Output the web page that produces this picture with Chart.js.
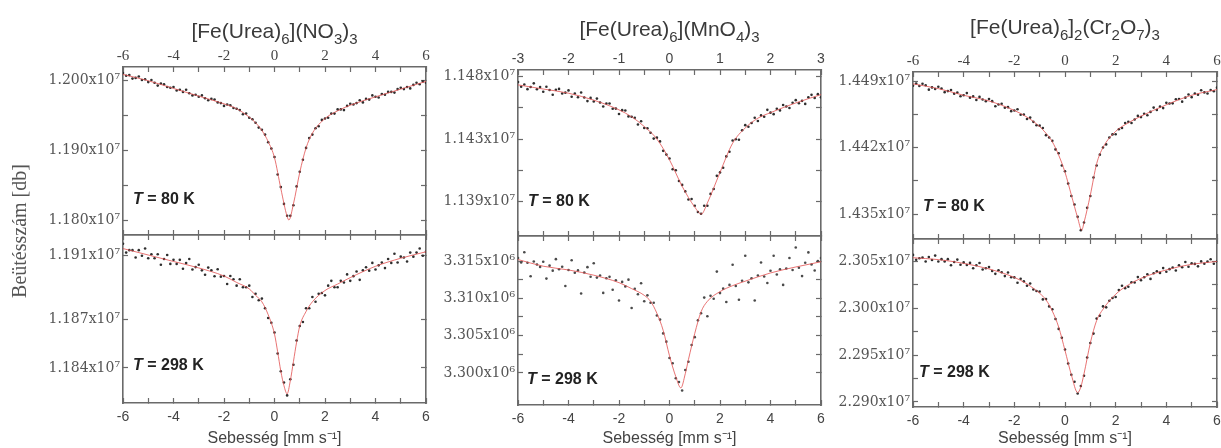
<!DOCTYPE html>
<html>
<head>
<meta charset="utf-8">
<script src="https://cdn.jsdelivr.net/npm/chart.js@4.4.1/dist/chart.umd.min.js"></script>
<style>
  html, body { margin: 0; padding: 0; background: #fff; }
  #wrap { position: relative; width: 1221px; height: 448px; overflow: hidden; }
  #wrap canvas { position: absolute; left: 0; top: 0; }
</style>
</head>
<body>
<div id="wrap">
  <canvas id="c1" width="1221" height="448"></canvas>
  <canvas id="c2" width="1221" height="448"></canvas>
  <canvas id="c3" width="1221" height="448"></canvas>
  <canvas id="c4" width="1221" height="448"></canvas>
  <canvas id="c5" width="1221" height="448"></canvas>
  <canvas id="c6" width="1221" height="448"></canvas>
</div>
<script>
// velocity channels [mm/s]
const velocity = [-6, -5.875, -5.75, -5.625, -5.5, -5.375, -5.25, -5.125, -5, -4.875, -4.75, -4.625, -4.5, -4.375, -4.25, -4.125, -4, -3.875, -3.75, -3.625, -3.5, -3.375, -3.25, -3.125, -3, -2.875, -2.75, -2.625, -2.5, -2.375, -2.25, -2.125, -2, -1.875, -1.75, -1.625, -1.5, -1.375, -1.25, -1.125, -1, -0.875, -0.75, -0.625, -0.5, -0.375, -0.25, -0.125, 0, 0.125, 0.25, 0.375, 0.5, 0.625, 0.75, 0.875, 1, 1.125, 1.25, 1.375, 1.5, 1.625, 1.75, 1.875, 2, 2.125, 2.25, 2.375, 2.5, 2.625, 2.75, 2.875, 3, 3.125, 3.25, 3.375, 3.5, 3.625, 3.75, 3.875, 4, 4.125, 4.25, 4.375, 4.5, 4.625, 4.75, 4.875, 5, 5.125, 5.25, 5.375, 5.5, 5.625, 5.75, 5.875, 6];
const velocityNarrow = [-3, -2.9375, -2.875, -2.8125, -2.75, -2.6875, -2.625, -2.5625, -2.5, -2.4375, -2.375, -2.3125, -2.25, -2.1875, -2.125, -2.0625, -2, -1.9375, -1.875, -1.8125, -1.75, -1.6875, -1.625, -1.5625, -1.5, -1.4375, -1.375, -1.3125, -1.25, -1.1875, -1.125, -1.0625, -1, -0.9375, -0.875, -0.8125, -0.75, -0.6875, -0.625, -0.5625, -0.5, -0.4375, -0.375, -0.3125, -0.25, -0.1875, -0.125, -0.0625, 0, 0.0625, 0.125, 0.1875, 0.25, 0.3125, 0.375, 0.4375, 0.5, 0.5625, 0.625, 0.6875, 0.75, 0.8125, 0.875, 0.9375, 1, 1.0625, 1.125, 1.1875, 1.25, 1.3125, 1.375, 1.4375, 1.5, 1.5625, 1.625, 1.6875, 1.75, 1.8125, 1.875, 1.9375, 2, 2.0625, 2.125, 2.1875, 2.25, 2.3125, 2.375, 2.4375, 2.5, 2.5625, 2.625, 2.6875, 2.75, 2.8125, 2.875, 2.9375, 3];

// counts, in units of 10^7 (permanganate 298 K: 10^6)
const nitrate80K = [1.2010, 1.2006, 1.2007, 1.2002, 1.2003, 1.2005, 1.2000, 1.2001, 1.1997, 1.2000,
  1.1996, 1.1992, 1.1995, 1.1994, 1.1990, 1.1989, 1.1990, 1.1985, 1.1986, 1.1983,
  1.1986, 1.1981, 1.1978, 1.1979, 1.1976, 1.1978, 1.1974, 1.1971, 1.1973, 1.1972,
  1.1968, 1.1967, 1.1963, 1.1965, 1.1964, 1.1960, 1.1959, 1.1957, 1.1951, 1.1952,
  1.1946, 1.1944, 1.1939, 1.1932, 1.1929, 1.1922, 1.1911, 1.1902, 1.1890, 1.1865,
  1.1847, 1.1823, 1.1806, 1.1806, 1.1821, 1.1848, 1.1869, 1.1886, 1.1903, 1.1917,
  1.1922, 1.1931, 1.1934, 1.1943, 1.1945, 1.1946, 1.1952, 1.1952, 1.1958, 1.1958,
  1.1957, 1.1963, 1.1966, 1.1965, 1.1967, 1.1971, 1.1968, 1.1973, 1.1972, 1.1978,
  1.1976, 1.1975, 1.1980, 1.1979, 1.1983, 1.1983, 1.1982, 1.1987, 1.1989, 1.1987,
  1.1990, 1.1988, 1.1993, 1.1996, 1.1994, 1.1998, 1.1996];
const nitrate80KFitV = [-6, -5, -4, -3, -2, -1.5, -1, -0.75, -0.5, -0.25, 0, 0.25, 0.5, 0.57, 0.75, 1, 1.25, 1.5, 2, 2.5, 3, 4, 5, 6];
const nitrate80KFit = [1.2008, 1.1999, 1.1988, 1.1977, 1.1966, 1.1959, 1.1947, 1.1939, 1.1928, 1.1912, 1.1889, 1.1845, 1.1805, 1.1800, 1.1823, 1.1868, 1.1903, 1.1924, 1.1945, 1.1956, 1.1964, 1.1976, 1.1987, 1.1998];

const nitrate298K = [1.19170, 1.19115, 1.19130, 1.19130, 1.19085, 1.19130, 1.19095, 1.19140, 1.19080, 1.19105,
  1.19080, 1.19105, 1.19040, 1.19075, 1.19100, 1.19045, 1.19070, 1.19045, 1.19070, 1.19015,
  1.19050, 1.19075, 1.19010, 1.19025, 1.19040, 1.19005, 1.18978, 1.19022, 1.19005, 1.18968,
  1.19012, 1.18966, 1.18970, 1.18920, 1.18970, 1.18950, 1.18910, 1.18950, 1.18900, 1.18900,
  1.18910, 1.18840, 1.18860, 1.18820, 1.18830, 1.18770, 1.18710, 1.18680, 1.18620, 1.18490,
  1.18380, 1.18310, 1.18230, 1.18330, 1.18420, 1.18570, 1.18660, 1.18685, 1.18770, 1.18770,
  1.18840, 1.18810, 1.18860, 1.18865, 1.18850, 1.18910, 1.18940, 1.18900, 1.18900, 1.18940,
  1.18930, 1.18980, 1.18940, 1.18969, 1.18998, 1.18946, 1.19005, 1.19024, 1.19003, 1.19051,
  1.19010, 1.19036, 1.19053, 1.19019, 1.19075, 1.19051, 1.19108, 1.19054, 1.19090, 1.19085,
  1.19060, 1.19115, 1.19090, 1.19115, 1.19140, 1.19095, 1.19120];
const nitrate298KFitV = [-6, -5, -4, -3, -2, -1.5, -1, -0.75, -0.5, -0.25, 0, 0.125, 0.25, 0.375, 0.5, 0.625, 0.75, 0.875, 1, 1.25, 1.5, 2, 2.5, 3, 4, 5, 6];
const nitrate298KFit = [1.1914, 1.1910, 1.1906, 1.1902, 1.1897, 1.1893, 1.1889, 1.1885, 1.1881, 1.1873, 1.1861, 1.1850, 1.1838, 1.1829, 1.1824, 1.1832, 1.1844, 1.1856, 1.1866, 1.1875, 1.1881, 1.1888, 1.1892, 1.1896, 1.1903, 1.1908, 1.1912];

const permanganate80K = [1.14710, 1.14676, 1.14693, 1.14659, 1.14675, 1.14701, 1.14658, 1.14674, 1.14640, 1.14676,
  1.14653, 1.14619, 1.14655, 1.14661, 1.14628, 1.14634, 1.14650, 1.14604, 1.14628, 1.14601,
  1.14635, 1.14599, 1.14573, 1.14596, 1.14570, 1.14591, 1.14563, 1.14534, 1.14555, 1.14556,
  1.14518, 1.14519, 1.14480, 1.14508, 1.14505, 1.14463, 1.14460, 1.14453, 1.14405, 1.14428,
  1.14380, 1.14378, 1.14345, 1.14303, 1.14310, 1.14283, 1.14215, 1.14188, 1.14160, 1.14083,
  1.14075, 1.13998, 1.13970, 1.13923, 1.13865, 1.13868, 1.13820, 1.13775, 1.13762, 1.13820,
  1.13820, 1.13905, 1.13940, 1.14035, 1.14060, 1.14093, 1.14175, 1.14208, 1.14290, 1.14298,
  1.14295, 1.14363, 1.14400, 1.14388, 1.14415, 1.14453, 1.14430, 1.14470, 1.14460, 1.14510,
  1.14490, 1.14479, 1.14518, 1.14506, 1.14545, 1.14534, 1.14523, 1.14561, 1.14580, 1.14558,
  1.14575, 1.14553, 1.14600, 1.14618, 1.14595, 1.14623, 1.14600];
const permanganate80KFitV = [-3, -2.5, -2, -1.5, -1, -0.75, -0.5, -0.25, 0, 0.25, 0.5, 0.63, 0.75, 1, 1.25, 1.5, 1.75, 2, 2.5, 3];
const permanganate80KFit = [1.1469, 1.1466, 1.1463, 1.1458, 1.1451, 1.1446, 1.1439, 1.1430, 1.1415, 1.1396, 1.1381, 1.1376, 1.1384, 1.1406, 1.1427, 1.1438, 1.1445, 1.1449, 1.1456, 1.1462];

const permanganate298K = [3.31540, 3.31479, 3.31618, 3.31476, 3.31295, 3.31494, 3.31453, 3.31421, 3.31490, 3.31264,
  3.31438, 3.31371, 3.31525, 3.31389, 3.31423, 3.31166, 3.31380, 3.31511, 3.31343, 3.31374,
  3.31065, 3.31346, 3.31418, 3.31289, 3.31470, 3.31278, 3.31305, 3.31073, 3.31270, 3.31288,
  3.31115, 3.31243, 3.30970, 3.31220, 3.31160, 3.31250, 3.30870, 3.31128, 3.31055, 3.31203,
  3.30960, 3.31040, 3.30940, 3.30940, 3.30770, 3.30715, 3.30530, 3.30420, 3.30200, 3.30130,
  3.29930, 3.29880, 3.29765, 3.30040, 3.30150, 3.30375, 3.30480, 3.30705, 3.30800, 3.31010,
  3.30760, 3.31033, 3.30995, 3.31358, 3.31070, 3.31130, 3.30950, 3.31180, 3.31450, 3.31165,
  3.30980, 3.31235, 3.31570, 3.31214, 3.31268, 3.30971, 3.31305, 3.31479, 3.31293, 3.31206,
  3.31370, 3.31570, 3.31320, 3.31390, 3.31180, 3.31400, 3.31540, 3.31380, 3.31680, 3.31409,
  3.31298, 3.31476, 3.31615, 3.31454, 3.31373, 3.31501, 3.31540];
const permanganate298KFitV = [-6, -5, -4, -3, -2, -1.5, -1, -0.75, -0.5, -0.25, 0, 0.25, 0.45, 0.625, 0.75, 1, 1.25, 1.5, 2, 2.5, 3, 4, 5, 6];
const permanganate298KFit = [3.3152, 3.3143, 3.3138, 3.3131, 3.3121, 3.3113, 3.3104, 3.3096, 3.3080, 3.3057, 3.3023, 3.2995, 3.2980, 3.2999, 3.3018, 3.3053, 3.3082, 3.3096, 3.3109, 3.3117, 3.3123, 3.3134, 3.3142, 3.3149];

const dichromate80K = [1.44850, 1.44874, 1.44848, 1.44871, 1.44855, 1.44809, 1.44833, 1.44816, 1.44840, 1.44821,
  1.44783, 1.44794, 1.44805, 1.44766, 1.44778, 1.44739, 1.44750, 1.44773, 1.44725, 1.44738,
  1.44700, 1.44733, 1.44705, 1.44688, 1.44710, 1.44688, 1.44635, 1.44653, 1.44660, 1.44618,
  1.44625, 1.44583, 1.44590, 1.44603, 1.44545, 1.44548, 1.44500, 1.44515, 1.44470, 1.44435,
  1.44430, 1.44405, 1.44330, 1.44305, 1.44270, 1.44180, 1.44140, 1.44010, 1.43950, 1.43820,
  1.43690, 1.43600, 1.43470, 1.43330, 1.43410, 1.43565, 1.43690, 1.43885, 1.44010, 1.44125,
  1.44200, 1.44233, 1.44305, 1.44338, 1.44340, 1.44393, 1.44405, 1.44458, 1.44470, 1.44458,
  1.44495, 1.44533, 1.44520, 1.44555, 1.44540, 1.44575, 1.44620, 1.44595, 1.44630, 1.44615,
  1.44670, 1.44663, 1.44665, 1.44708, 1.44710, 1.44683, 1.44725, 1.44758, 1.44730, 1.44768,
  1.44755, 1.44803, 1.44780, 1.44768, 1.44805, 1.44793, 1.44830];
const dichromate80KFitV = [-6, -5, -4, -3, -2, -1.5, -1, -0.75, -0.5, -0.25, 0, 0.25, 0.5, 0.66, 0.75, 1, 1.25, 1.5, 2, 2.5, 3, 4, 5, 6];
const dichromate80KFit = [1.4487, 1.4482, 1.4475, 1.4469, 1.4459, 1.4452, 1.4442, 1.4435, 1.4426, 1.4412, 1.4394, 1.4370, 1.4346, 1.4333, 1.4341, 1.4370, 1.4403, 1.4420, 1.4437, 1.4446, 1.4453, 1.4465, 1.4475, 1.4481];

const dichromate298K = [2.30570, 2.30518, 2.30535, 2.30543, 2.30500, 2.30548, 2.30515, 2.30563, 2.30500, 2.30525,
  2.30500, 2.30525, 2.30460, 2.30495, 2.30520, 2.30465, 2.30490, 2.30463, 2.30485, 2.30428,
  2.30460, 2.30483, 2.30415, 2.30428, 2.30440, 2.30399, 2.30368, 2.30406, 2.30385, 2.30344,
  2.30383, 2.30331, 2.30330, 2.30273, 2.30315, 2.30288, 2.30240, 2.30265, 2.30200, 2.30185,
  2.30180, 2.30095, 2.30100, 2.30020, 2.29990, 2.29885, 2.29780, 2.29685, 2.29560, 2.29410,
  2.29290, 2.29215, 2.29090, 2.29170, 2.29280, 2.29475, 2.29630, 2.29730, 2.29890, 2.29920,
  2.30020, 2.30010, 2.30080, 2.30110, 2.30120, 2.30195, 2.30240, 2.30215, 2.30230, 2.30278,
  2.30275, 2.30333, 2.30300, 2.30331, 2.30363, 2.30314, 2.30375, 2.30396, 2.30378, 2.30429,
  2.30390, 2.30418, 2.30435, 2.30403, 2.30460, 2.30438, 2.30495, 2.30443, 2.30480, 2.30474,
  2.30448, 2.30501, 2.30475, 2.30499, 2.30523, 2.30476, 2.30500];
const dichromate298KFitV = [-6, -5, -4, -3, -2, -1.5, -1, -0.75, -0.5, -0.25, 0, 0.25, 0.5, 0.625, 0.75, 1, 1.25, 1.5, 2, 2.5, 3, 4, 5, 6];
const dichromate298KFit = [2.3054, 2.3052, 2.3048, 2.3042, 2.3033, 2.3026, 2.3016, 2.3009, 2.2997, 2.2980, 2.2955, 2.2929, 2.2910, 2.2916, 2.2930, 2.2963, 2.2987, 2.2999, 2.3015, 2.3025, 2.3032, 2.3041, 2.3047, 2.3050];

// tick values and their labels ('' = unlabelled minor tick)
const xTicksWide = [-6, -5, -4, -3, -2, -1, 0, 1, 2, 3, 4, 5, 6];
const xLabelsWide = ['-6', '', '-4', '', '-2', '', '0', '', '2', '', '4', '', '6'];
const xTicksNarrow = [-3, -2.5, -2, -1.5, -1, -0.5, 0, 0.5, 1, 1.5, 2, 2.5, 3];
const xLabelsNarrow = ['-3', '', '-2', '', '-1', '', '0', '', '1', '', '2', '', '3'];

const nitrate80KTicks = [1.180, 1.185, 1.190, 1.195, 1.200];
const nitrate80KLabels = ['1.180x10⁷', '', '1.190x10⁷', '', '1.200x10⁷'];
const nitrate298KTicks = [1.184, 1.187, 1.191];
const nitrate298KLabels = ['1.184x10⁷', '1.187x10⁷', '1.191x10⁷'];
const permanganate80KTicks = [1.1385, 1.14075, 1.1430, 1.14525, 1.1475];
const permanganate80KLabels = ['1.139x10⁷', '', '1.143x10⁷', '', '1.148x10⁷'];
const permanganate298KTicks = [3.300, 3.3025, 3.305, 3.3075, 3.310, 3.3125, 3.315];
const permanganate298KLabels = ['3.300x10⁶', '', '3.305x10⁶', '', '3.310x10⁶', '', '3.315x10⁶'];
const dichromate80KTicks = [1.435, 1.4385, 1.442, 1.4455, 1.449];
const dichromate80KLabels = ['1.435x10⁷', '', '1.442x10⁷', '', '1.449x10⁷'];
const dichromate298KTicks = [2.290, 2.2925, 2.295, 2.2975, 2.300, 2.3025, 2.305];
const dichromate298KLabels = ['2.290x10⁷', '', '2.295x10⁷', '', '2.300x10⁷', '', '2.305x10⁷'];

const serif = '"Liberation Serif", "Times New Roman", serif';
const sans = '"Liberation Sans", Arial, sans-serif';
const frame = '#6a6a6a';

const panels = [
  { id: 'c1', row: 'top', area: [123, 67, 426, 235], xRange: [-6, 6], xTicks: xTicksWide, xLabels: xLabelsWide, topFont: { family: serif, size: 15 },
    v: velocity, y: nitrate80K, fv: nitrate80KFitV, fy: nitrate80KFit, yRange: [1.17786, 1.20186], yTicks: nitrate80KTicks, yLabels: nitrate80KLabels,
    temp: '80 K', tempAt: [10, 35], titleY: 38, yTitle: true,
    title: [['[Fe(Urea)', 0], ['6', 1], ['](NO', 0], ['3', 1], [')', 0], ['3', 1]] },
  { id: 'c2', row: 'bottom', area: [123, 235, 426, 403], xRange: [-6, 6], xTicks: xTicksWide, xLabels: xLabelsWide,
    v: velocity, y: nitrate298K, fv: nitrate298KFitV, fy: nitrate298KFit, yRange: [1.18183, 1.19224], yTicks: nitrate298KTicks, yLabels: nitrate298KLabels,
    temp: '298 K', tempAt: [10, 37] },
  { id: 'c3', row: 'top', area: [518, 70, 821, 236], xRange: [-3, 3], xTicks: xTicksNarrow, xLabels: xLabelsNarrow, topFont: { family: sans, size: 14 },
    v: velocityNarrow, y: permanganate80K, fv: permanganate80KFitV, fy: permanganate80KFit, yRange: [1.13602, 1.14797], yTicks: permanganate80KTicks, yLabels: permanganate80KLabels,
    temp: '80 K', tempAt: [10, 34], titleY: 36,
    title: [['[Fe(Urea)', 0], ['6', 1], ['](MnO', 0], ['4', 1], [')', 0], ['3', 1]] },
  { id: 'c4', row: 'bottom', area: [518, 236, 821, 405], xRange: [-6, 6], xTicks: xTicksWide, xLabels: xLabelsWide,
    v: velocity, y: permanganate298K, fv: permanganate298KFitV, fy: permanganate298KFit, yRange: [3.29571, 3.31835], yTicks: permanganate298KTicks, yLabels: permanganate298KLabels,
    temp: '298 K', tempAt: [9, 25], dot: '#4a4a4a' },
  { id: 'c5', row: 'top', area: [913, 72, 1217, 239], xRange: [-6, 6], xTicks: xTicksWide, xLabels: xLabelsWide, topFont: { family: serif, size: 15 },
    v: velocity, y: dichromate80K, fv: dichromate80KFitV, fy: dichromate80KFit, yRange: [1.43237, 1.44995], yTicks: dichromate80KTicks, yLabels: dichromate80KLabels,
    temp: '80 K', tempAt: [10, 32], titleY: 34,
    title: [['[Fe(Urea)', 0], ['6', 1], [']', 0], ['2', 1], ['(Cr', 0], ['2', 1], ['O', 0], ['7', 1], [')', 0], ['3', 1]] },
  { id: 'c6', row: 'bottom', area: [913, 239, 1217, 407], xRange: [-6, 6], xTicks: xTicksWide, xLabels: xLabelsWide,
    v: velocity, y: dichromate298K, fv: dichromate298KFitV, fy: dichromate298KFit, yRange: [2.28946, 2.30740], yTicks: dichromate298KTicks, yLabels: dichromate298KLabels,
    temp: '298 K', tempAt: [6, 34] }
];

function labelAt(ticks, labels, v) {
  const i = ticks.findIndex(t => Math.abs(t - v) < 1e-7);
  return i < 0 ? '' : labels[i];
}

function drawRich(ctx, parts, cx, baseline) {
  const main = '21px ' + sans, small = '15px ' + sans;
  let total = 0;
  parts.forEach(([t, sub]) => { ctx.font = sub ? small : main; total += ctx.measureText(t).width; });
  let x = cx - total / 2;
  ctx.textAlign = 'left';
  ctx.textBaseline = 'alphabetic';
  parts.forEach(([t, sub]) => {
    ctx.font = sub ? small : main;
    ctx.fillText(t, x, baseline + (sub ? 6 : 0));
    x += ctx.measureText(t).width;
  });
}

const annotator = p => ({
  id: 'annotate',
  afterDraw(chart) {
    const { ctx, chartArea: a } = chart;
    ctx.save();
    // temperature label
    ctx.fillStyle = '#222';
    ctx.textAlign = 'left';
    ctx.textBaseline = 'middle';
    let x = a.left + p.tempAt[0];
    const y = a.bottom - p.tempAt[1];
    ctx.font = 'italic bold 16px ' + sans;
    ctx.fillText('T', x, y);
    x += ctx.measureText('T').width;
    ctx.font = 'bold 16px ' + sans;
    ctx.fillText(' = ' + p.temp, x, y);
    // compound name
    if (p.title) {
      ctx.fillStyle = '#3a3a3a';
      drawRich(ctx, p.title, (a.left + a.right) / 2, p.titleY);
    }
    // shared y title
    if (p.yTitle) {
      ctx.translate(21, 231);
      ctx.rotate(-Math.PI / 2);
      ctx.textAlign = 'center';
      ctx.textBaseline = 'middle';
      ctx.font = '20px ' + serif;
      ctx.fillStyle = '#555';
      ctx.fillText('Beütésszám [db]', 0, 0);
    }
    ctx.restore();
  }
});

function makePanel(p) {
  const top = p.row === 'top';
  const [left, areaTop, right, bottom] = p.area;
  const W = 1221, H = 448, yW = 100;
  const topH = top ? 40 : 0;
  const botH = top ? 0 : H - bottom;
  const edge = { display: true, color: frame, width: 1.6 };
  const grid = { drawOnChartArea: false, tickLength: -5, tickColor: frame, tickWidth: 1.2 };
  const setTicks = list => scale => { scale.ticks = list.map(v => ({ value: v })); };

  const xAxis = (position, show, font, height, padding) => ({
    type: 'linear', position, min: p.xRange[0], max: p.xRange[1],
    afterBuildTicks: setTicks(p.xTicks),
    afterFit: s => { s.height = height; s.paddingLeft = 0; s.paddingRight = 0; },
    ticks: { display: show, autoSkip: false, maxRotation: 0, padding, font, color: '#444',
      callback: v => labelAt(p.xTicks, p.xLabels, v) },
    grid, border: edge
  });
  const yAxis = (position, show, width) => ({
    type: 'linear', position, min: p.yRange[0], max: p.yRange[1],
    afterBuildTicks: setTicks(p.yTicks),
    afterFit: s => { s.width = width; s.paddingTop = 0; s.paddingBottom = 0; },
    ticks: { display: show, autoSkip: false, padding: 8, font: { family: '"DejaVu Serif", serif', size: 14 }, color: '#555',
      callback: v => labelAt(p.yTicks, p.yLabels, v) },
    grid, border: edge
  });

  const x = xAxis('bottom', !top, { family: sans, size: 14 }, botH, 11);
  x.title = { display: !top, text: 'Sebesség [mm s⁻¹]', font: { family: sans, size: 16 }, color: '#444', padding: 0 };

  new Chart(document.getElementById(p.id), {
    type: 'scatter',
    data: {
      datasets: [
        { data: p.v.map((v, i) => ({ x: v, y: p.y[i] })), showLine: false, pointRadius: 1.3,
          pointBackgroundColor: p.dot || '#2e2e2e', pointBorderWidth: 0, order: 2 },
        { data: p.fv.map((v, i) => ({ x: v, y: p.fy[i] })), showLine: true, pointRadius: 0,
          borderColor: 'rgba(226, 80, 80, 0.8)', borderWidth: 1, cubicInterpolationMode: 'monotone', order: 1 }
      ]
    },
    options: {
      responsive: false,
      animation: false,
      events: [],
      layout: { padding: { left: left - yW, right: W - right, top: areaTop - topH, bottom: H - bottom - botH } },
      plugins: { legend: { display: false }, tooltip: { enabled: false } },
      scales: {
        x,
        xTop: xAxis('top', top, p.topFont, topH, 7),
        y: yAxis('left', true, yW),
        yRight: yAxis('right', false, 0)
      }
    },
    plugins: [annotator(p)]
  });
}

panels.forEach(makePanel);
</script>
</body>
</html>
